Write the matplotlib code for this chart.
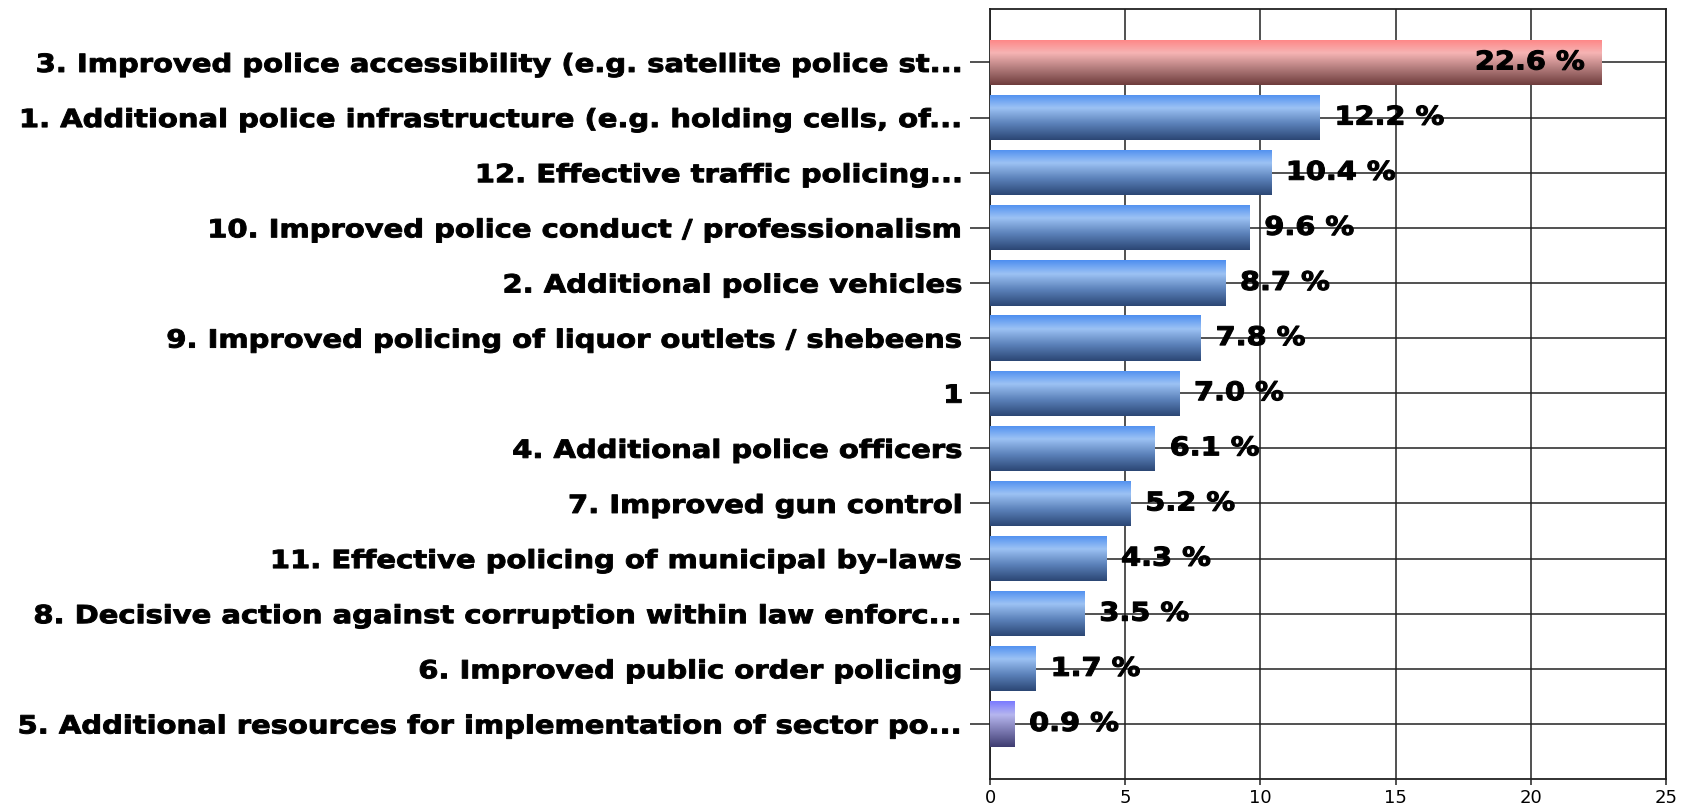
import numpy as np
import matplotlib.pyplot as plt
import matplotlib.patheffects as pe
from matplotlib.colors import LinearSegmentedColormap
from matplotlib.transforms import Affine2D

# Survey answers, top to bottom
labels = [
    "3. Improved police accessibility (e.g. satellite police st...",
    "1. Additional police infrastructure (e.g. holding cells, of...",
    "12. Effective traffic policing...",
    "10. Improved police conduct / professionalism",
    "2. Additional police vehicles",
    "9. Improved policing of liquor outlets / shebeens",
    "1",
    "4. Additional police officers",
    "7. Improved gun control",
    "11. Effective policing of municipal by-laws",
    "8. Decisive action against corruption within law enforc...",
    "6. Improved public order policing",
    "5. Additional resources for implementation of sector po...",
]
values = [22.6, 12.2, 10.4, 9.6, 8.7, 7.8, 7.0, 6.1, 5.2, 4.3, 3.5, 1.7, 0.9]
xticks = [0, 5, 10, 15, 20, 25]

# gradient colours: top, highlight, lower, bottom
red_grad = ["#ff8484", "#f6b4b4", "#b07a7a", "#6e3c3c"]
blue_grad = ["#4d8ef0", "#9cc2f4", "#5a80b8", "#2b4674"]
purple_grad = ["#7a7aff", "#b6b6ee", "#7a78b0", "#3e3c70"]
styles = [red_grad] + [blue_grad] * 11 + [purple_grad]


# widens a text path horizontally (the original uses a heavy, wide font)
class Wide(pe.AbstractPathEffect):
    def __init__(self, sx, anchor="right", lw=0.0):
        super().__init__()
        self.sx = sx
        self.anchor = anchor
        self.lw = lw

    def draw_path(self, renderer, gc, tpath, affine, rgbFace=None):
        ext = tpath.get_extents(affine)
        x0 = ext.x1 if self.anchor == "right" else ext.x0
        aff = affine + Affine2D().translate(-x0, 0).scale(self.sx, 1).translate(x0, 0)
        gc0 = renderer.new_gc()
        gc0.copy_properties(gc)
        if self.lw:
            gc0.set_linewidth(self.lw)
            gc0.set_foreground(rgbFace)
        renderer.draw_path(gc0, tpath, aff, rgbFace)
        gc0.restore()


fig = plt.figure(figsize=(16.93, 8.09), dpi=100)
ax = fig.add_axes([0.5848, 0.0370, 0.3993, 0.9519])

y = np.arange(len(values))
bar_h = 0.82
bars = ax.barh(y, values, height=bar_h, color="none", edgecolor="none", zorder=3)

grad = np.linspace(0, 1, 256).reshape(-1, 1)
for bar, v, cols in zip(bars, values, styles):
    cmap = LinearSegmentedColormap.from_list("g", list(zip([0, 0.3, 0.65, 1], cols)))
    yy = bar.get_y()
    im = ax.imshow(grad, cmap=cmap, aspect="auto", zorder=3,
                   extent=[0, v, yy + bar_h, yy], interpolation="bilinear")
    im.set_clip_path(bar)

for i, v in enumerate(values):
    txt = f"{v:.1f} %"
    if i == 0:
        ax.text(v - 0.6, i, txt, ha="right", va="center", fontsize=18.5,
                fontweight="bold", color="black", zorder=5,
                path_effects=[Wide(1.12, "right", 0.8)])
    else:
        ax.text(v + 0.55, i, txt, ha="left", va="center", fontsize=18.5,
                fontweight="bold", color="black", zorder=5,
                path_effects=[Wide(1.12, "left", 0.8)])

ax.set_xlim(0, 25)
ax.set_ylim(13.0, -0.97)
ax.set_yticks(y)
ax.set_yticklabels(labels, fontsize=18, fontweight="bold")
for t in ax.get_yticklabels():
    t.set_path_effects([Wide(1.16, "right", 0.7)])
ax.set_xticks(xticks)
ax.set_xticklabels([str(t) for t in xticks], fontsize=13,
                   family=["Liberation Sans Narrow", "DejaVu Sans"])
ax.tick_params(axis="y", length=14.4, width=1.2, color="#333333", pad=5)
ax.tick_params(axis="x", length=4.3, width=1.2, color="#333333", pad=3)
ax.grid(True, color="#222222", linewidth=1.1, zorder=1)
ax.set_axisbelow(True)
for s in ax.spines.values():
    s.set_color("#222222")
    s.set_linewidth(1.3)

fig.savefig("out.png", dpi=100)
